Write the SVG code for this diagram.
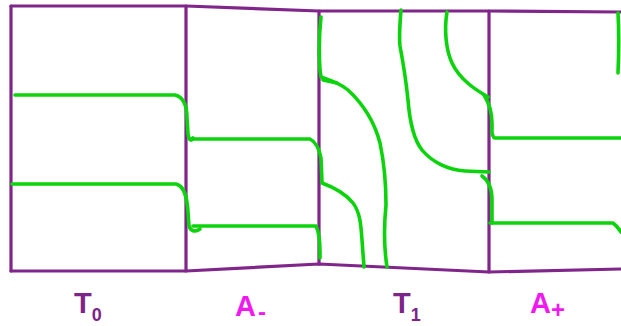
<svg xmlns="http://www.w3.org/2000/svg" width="621" height="326" viewBox="0 0 621 326">
<style>
.frame{fill:none;stroke:#80268a;stroke-width:3.2;stroke-linejoin:round;stroke-linecap:round}
.g{fill:none;stroke:#0cd40c;stroke-width:3.6;stroke-linecap:round;stroke-linejoin:round}
.lbl{font-family:"Liberation Sans","DejaVu Sans",sans-serif;font-size:29px}
.p{fill:#7d2489}
.m{fill:#f01af0}
</style>
<rect width="621" height="326" fill="#ffffff"/>
<g id="frame">
<path class="frame" d="M11,6 L186,6 L319,11 L489,11 L621,12"/>
<path class="frame" d="M11,271 L186,271 L319,264 L489,272 L621,269"/>
<path class="frame" d="M11,6 V271 M186,6 V271 M319,11 V264 M489,11 V272"/>
</g>
<g id="connectors">
<path class="g" d="M15,95 L175,95 C183,97 187,105 187,118 L188,134 C189,140 191,142 193,138"/>
<path class="g" d="M190,139 L310,139 C316,142 319,148 321,158 L322,182"/>
<path class="g" d="M12,184 L176,184 C184,186 187,196 188,212 L189,226 C191,232 196,232 200,229"/>
<path class="g" d="M193,226 L316,226 C319,232 320,240 320,252 L320,258"/>
<path class="g" d="M322,183 C333,187 345,193 353,203 C360,212 361,225 362,240 L364,267"/>
<path class="g" d="M321,17 C319,35 319,55 320,70 L321,77 C330,80 340,83 348,90 C362,103 374,120 380,143 C384,162 386,185 386,205 C384,225 384,248 387,267"/>
<path class="g" d="M323,80 L337,83"/>
<path class="g" d="M401,10 C400,22 399,37 400,46 C403,62 406,80 408,100 C410,125 414,140 422,150 C432,162 448,170 465,171 L489,172"/>
<path class="g" d="M447,12 C444,30 446,50 452,63 C460,80 476,90 488,97"/>
<path class="g" d="M484,95 C489,103 492,112 492,123 L492,133 C493,137 494,138 495,138 L621,138"/>
<path class="g" d="M482,176 C488,180 492,187 492,200 L492,223"/>
<path class="g" d="M490,223 L613,223 C617,226 619,229 621,232"/>
<path class="g" d="M618,13 C619,30 619,50 618,73"/>
</g>
<g id="label-T0"><text class="lbl p" x="74" y="313" font-weight="bold">T<tspan font-size="18px" dy="8">0</tspan></text></g>
<g id="label-Aminus"><text class="lbl m" x="235" y="316" font-weight="bold">A<tspan font-size="24px" dy="4" dx="2">-</tspan></text></g>
<g id="label-T1"><text class="lbl p" x="393" y="313" font-weight="bold">T<tspan font-size="18px" dy="8">1</tspan></text></g>
<g id="label-Aplus"><text class="lbl m" x="530" y="313" font-weight="bold">A<tspan font-size="24px" dy="5">+</tspan></text></g>
</svg>
